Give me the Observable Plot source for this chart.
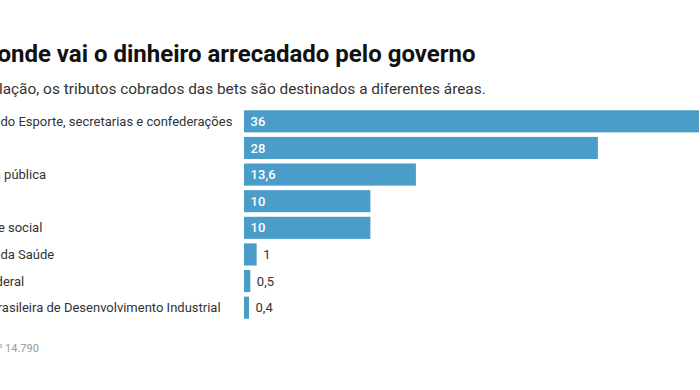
<!DOCTYPE html>
<html>
<head>
<meta charset="utf-8">
<script src="https://cdn.jsdelivr.net/npm/d3@7"></script>
<script src="https://cdn.jsdelivr.net/npm/@observablehq/plot@0.6"></script>
<style>
  html, body { margin: 0; padding: 0; background: #fff; overflow: hidden; width: 700px; height: 390px; }
  body { position: relative; font-family: Roboto, "Noto Sans", sans-serif; }
  .abs { position: absolute; white-space: nowrap; line-height: 1; }
  #title { top: 42px; font-size: 24px; font-weight: 700; color: #111; }
  #subtitle { top: 82px; font-size: 15.4px; color: #333; }
  #footer { top: 343px; font-size: 11px; color: #999; }
  #chart { position: absolute; top: 108px; width: 800px; }
  #chart svg { display: block; max-width: none !important; }
</style>
</head>
<body>
<div id="title" class="abs">Para onde vai o dinheiro arrecadado pelo governo</div>
<div id="subtitle" class="abs">Pela legislação, os tributos cobrados das bets são destinados a diferentes áreas.</div>
<div id="chart"></div>
<div id="footer" class="abs">Fonte: Lei nº 14.790</div>
<script>
const categories = [
  "Ministério do Esporte, secretarias e confederações",
  "Turismo",
  "Segurança pública",
  "Educação",
  "Seguridade social",
  "Ministério da Saúde",
  "Polícia Federal",
  "Agência Brasileira de Desenvolvimento Industrial"
];
const values = [36, 28, 13.6, 10, 10, 1, 0.5, 0.4];

const L = -60; // left edge of the chart block (cropped in reference)
document.getElementById("title").style.left = (L + 2) + "px";
document.getElementById("subtitle").style.left = (L - 7) + "px";
document.getElementById("footer").style.left = (L + 1) + "px";
const chartDiv = document.getElementById("chart");
chartDiv.style.left = L + "px";

const mLeft = 304;
const data = categories.map((c, i) => ({cat: c, value: values[i]}));
const fmt = v => String(v).replace(".", ",");
const big = data.filter(d => d.value >= 5);
const small = data.filter(d => d.value < 5);

const plot = Plot.plot({
  width: 764,
  height: 213,
  marginLeft: mLeft,
  marginRight: 5,
  marginTop: 0,
  marginBottom: 0,
  style: {fontFamily: "Roboto, sans-serif", background: "transparent", overflow: "visible"},
  x: {domain: [0, 36], axis: null},
  y: {domain: categories, axis: null, paddingInner: 0.17, paddingOuter: 0.085, round: false},
  marks: [
    Plot.barX(data, {y: "cat", x: "value", fill: "#4a9dc8"}),
    Plot.text(data, {y: "cat", text: "cat", frameAnchor: "left", textAnchor: "start", dx: -mLeft - 1, fill: "#333", fontSize: 13}),
    Plot.text(big, {y: "cat", x: 0, text: d => fmt(d.value), textAnchor: "start", dx: 6, fill: "#fff", fontSize: 13, fontWeight: 500}),
    Plot.text(small, {y: "cat", x: "value", text: d => fmt(d.value), textAnchor: "start", dx: 6, fill: "#333", fontSize: 13})
  ]
});
chartDiv.appendChild(plot);
</script>
</body>
</html>
